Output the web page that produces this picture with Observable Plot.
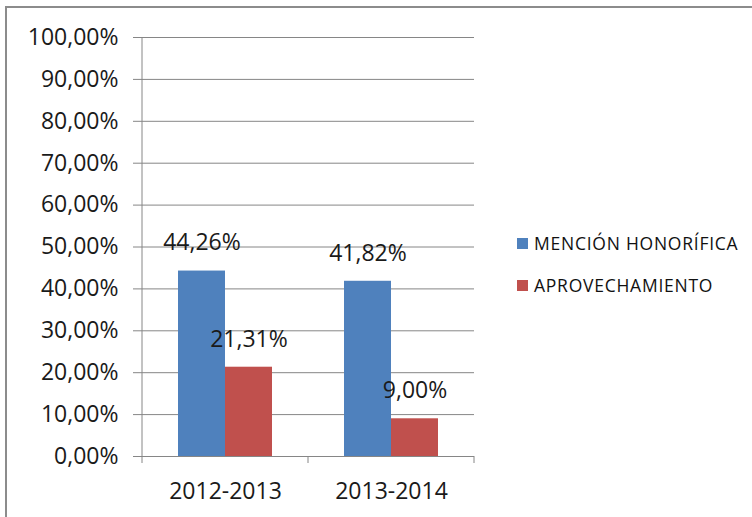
<!DOCTYPE html>
<html>
<head>
<meta charset="utf-8">
<script src="https://cdn.jsdelivr.net/npm/d3@7"></script>
<script src="https://cdn.jsdelivr.net/npm/@observablehq/plot@0.6"></script>
<style>
  html, body { margin: 0; padding: 0; background: #fff; overflow: hidden; }
  #wrap { position: relative; width: 752px; height: 517px; overflow: hidden; }
  #chart { position: absolute; left: 0; top: 0; }
  #border { position: absolute; left: 5px; top: 6px; width: 900px; height: 700px;
            border: 2px solid #8c8c8c; pointer-events: none; }
  #legend { position: absolute; left: 517px; top: 229px; font-family: "Open Sans", sans-serif;
            font-size: 17.5px; color: #111; letter-spacing: 0.75px; }
  .item { display: flex; align-items: center; height: 28px; margin-bottom: 14px; white-space: nowrap; }
  .sw { width: 11px; height: 11px; margin-right: 6px; flex: none; }
</style>
</head>
<body>
<div id="wrap">
  <div id="chart"></div>
  <div id="legend"></div>
  <div id="border"></div>
</div>
<script>
const years = ["2012-2013", "2013-2014"];
const series = ["MENCIÓN HONORÍFICA", "APROVECHAMIENTO"];
const mencionValues = [44.26, 41.82];
const aprovechamientoValues = [21.31, 9.00];
const colors = ["#4F81BD", "#C0504D"];
const yTicks = [0, 10, 20, 30, 40, 50, 60, 70, 80, 90, 100];

const data = years.flatMap((yr, i) => [
  {year: yr, serie: series[0], value: mencionValues[i]},
  {year: yr, serie: series[1], value: aprovechamientoValues[i]}
]);

const pct = v => v.toFixed(2).replace(".", ",") + "%";
const gray = "#868686";

const chart = Plot.plot({
  width: 752,
  height: 517,
  marginLeft: 142,
  marginRight: 278,
  marginTop: 37,
  marginBottom: 61,
  style: {fontFamily: "'Open Sans', sans-serif", fontSize: "23px", color: "#1a1a1a", background: "transparent"},
  fx: {domain: years, padding: 0, label: null},
  x: {domain: series, paddingInner: 0, paddingOuter: 0.75, axis: null},
  y: {domain: [0, 100], label: null},
  color: {domain: series, range: colors},
  marks: [
    Plot.gridY(yTicks, {stroke: gray, strokeOpacity: 1, strokeWidth: 1}),
    Plot.axisY(yTicks, {tickSize: 9, tickPadding: 15, tickFormat: pct, stroke: gray, fill: "#1a1a1a", fontSize: 23, label: null}),
    Plot.barY(data, {fx: "year", x: "serie", y: "value", fill: "serie"}),
    Plot.text(data, {fx: "year", x: "serie", y: "value", text: d => pct(d.value), dy: -28, fontSize: 23, fill: "#1a1a1a"}),
    Plot.axisFx({anchor: "bottom", tickSize: 0, tickPadding: 26, fontSize: 23, fill: "#1a1a1a", label: null})
  ]
});

document.getElementById("chart").append(chart);

// axis line and category boundary ticks, placed through the plot's own scales
const fxs = chart.scale("fx");
const ys = chart.scale("y");
const y0 = ys.apply(0), yTop = ys.apply(100);
const g = d3.select(chart).append("g").attr("stroke", gray).attr("stroke-width", 1);
const left = fxs.apply(years[0]);
g.append("line").attr("x1", left).attr("x2", left).attr("y1", yTop).attr("y2", y0 + 7);
const bounds = years.map(y => fxs.apply(y) + fxs.bandwidth);
bounds.forEach(b => g.append("line").attr("x1", b).attr("x2", b).attr("y1", y0).attr("y2", y0 + 7));

// legend
const legend = d3.select("#legend");
series.forEach((s, i) => {
  const it = legend.append("div").attr("class", "item");
  it.append("div").attr("class", "sw").style("background", colors[i]);
  it.append("span").text(s);
});
</script>
</body>
</html>
